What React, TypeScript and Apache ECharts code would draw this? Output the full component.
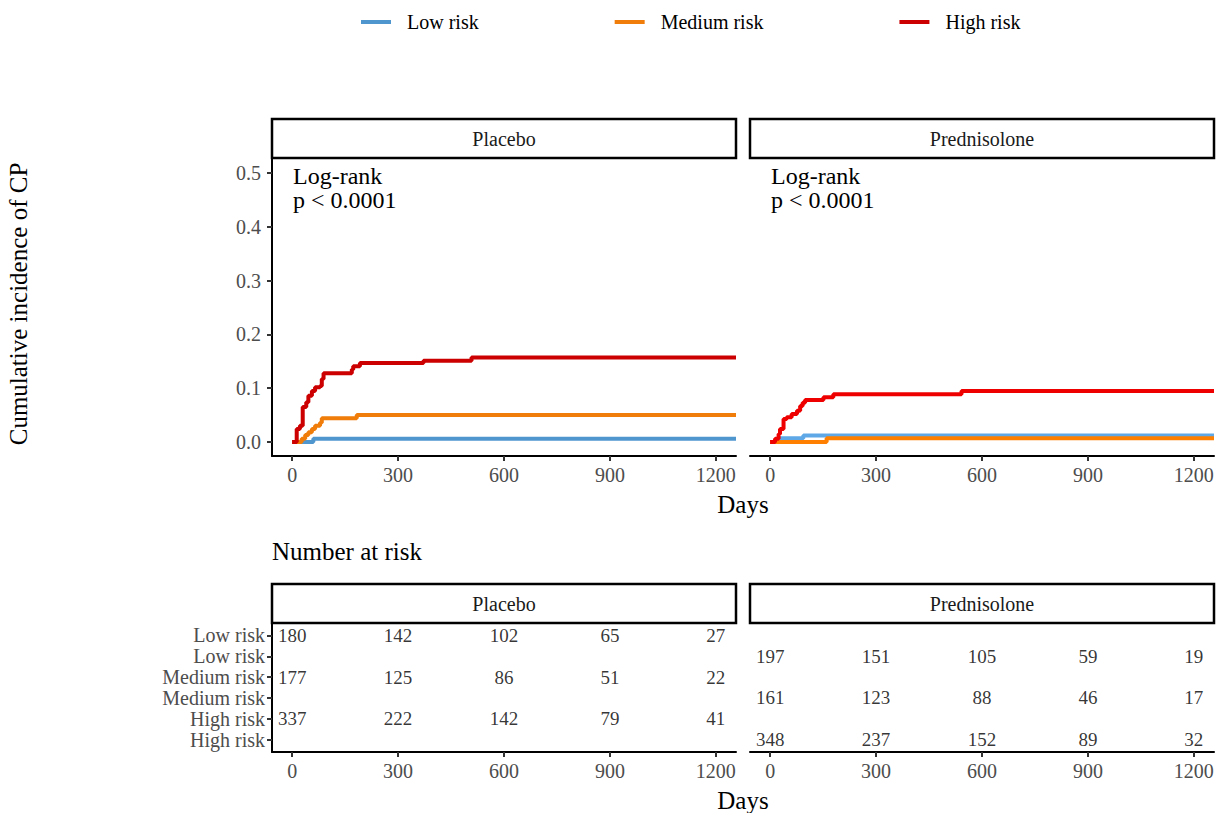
import React, { useEffect, useRef } from "react";
import * as echarts from "echarts";

const FONT = "Liberation Serif";

const riskGroups = ["Low risk", "Medium risk", "High risk"];
const panels = ["Placebo", "Prednisolone"];
const dayTicks = [0, 300, 600, 900, 1200];
const incidenceTicks = [0, 0.1, 0.2, 0.3, 0.4, 0.5];
const riskRowLabels = ["Low risk", "Low risk", "Medium risk", "Medium risk", "High risk", "High risk"];
const pValueText = ["Log-rank", "p < 0.0001"];

// Placebo cumulative incidence (step curves)
const placeboLowT = [0, 60, 1257];
const placeboLowY = [0, 0.006, 0.006];
const placeboMedT = [0, 23, 27, 37, 46, 56, 65, 79, 84, 183, 1257];
const placeboMedY = [0, 0, 0.006, 0.013, 0.018, 0.024, 0.03, 0.036, 0.044, 0.05, 0.05];
const placeboHighT = [0, 13, 22, 30, 40, 46, 56, 65, 79, 84, 89, 169, 173, 192, 372, 508, 1257];
const placeboHighY = [0, 0.024, 0.03, 0.065, 0.074, 0.086, 0.095, 0.102, 0.104, 0.117, 0.128, 0.135, 0.141, 0.147, 0.151, 0.157, 0.157];

// Prednisolone cumulative incidence
const predLowT = [0, 28, 94, 1257];
const predLowY = [0, 0.007, 0.012, 0.012];
const predMedT = [0, 160, 1257];
const predMedY = [0, 0.007, 0.007];
const predHighT = [0, 14, 24, 28, 38, 47, 61, 76, 85, 92, 99, 151, 179, 542, 1257];
const predHighY = [0, 0.006, 0.015, 0.024, 0.043, 0.046, 0.052, 0.058, 0.067, 0.073, 0.078, 0.083, 0.089, 0.095, 0.095];

// Number at risk
const riskTimes = [0, 300, 600, 900, 1200];
const placeboAtRiskLow = [180, 142, 102, 65, 27];
const placeboAtRiskMed = [177, 125, 86, 51, 22];
const placeboAtRiskHigh = [337, 222, 142, 79, 41];
const predAtRiskLow = [197, 151, 105, 59, 19];
const predAtRiskMed = [161, 123, 88, 46, 17];
const predAtRiskHigh = [348, 237, 152, 89, 32];

const leftColors = ["#4F96CF", "#F07C0A", "#CC0000"];
const rightColors = ["#5EA8E8", "#FF8000", "#EE0000"];

const zip = (t: number[], y: number[]) => t.map((v, i) => [v, y[i]]);

export default function App() {
  const ref = useRef<HTMLDivElement>(null);
  useEffect(() => {
    if (!ref.current) return;
    const chart = echarts.init(ref.current, null, { renderer: "svg" });

    const curves = [
      [zip(placeboLowT, placeboLowY), zip(placeboMedT, placeboMedY), zip(placeboHighT, placeboHighY)],
      [zip(predLowT, predLowY), zip(predMedT, predMedY), zip(predHighT, predHighY)],
    ];
    const atRisk = [
      [placeboAtRiskLow, placeboAtRiskMed, placeboAtRiskHigh],
      [predAtRiskLow, predAtRiskMed, predAtRiskHigh],
    ];

    const grids = [
      { left: 272, top: 159, width: 464, height: 297 },
      { left: 750, top: 159, width: 464, height: 297 },
      { left: 272, top: 623, width: 464, height: 129 },
      { left: 750, top: 623, width: 464, height: 129 },
    ];

    const xAxisBase = (gi: number) => ({
      type: "value",
      gridIndex: gi,
      min: -57,
      max: 1257,
      splitLine: { show: false },
      axisLine: { show: true, onZero: false, lineStyle: { color: "#000", width: 2 } },
      axisTick: { show: true, length: 5, customValues: dayTicks, lineStyle: { color: "#333", width: 2 } },
      axisLabel: {
        show: true,
        customValues: dayTicks,
        formatter: (v: number) => String(v),
        margin: 9,
        color: "#4D4D4D",
        fontSize: 20,
        fontFamily: FONT,
      },
    });

    const series: any[] = [];
    for (let p = 0; p < 2; p++) {
      for (let g = 0; g < 3; g++) {
        series.push({
          type: "line",
          name: riskGroups[g],
          xAxisIndex: p,
          yAxisIndex: p,
          step: "end",
          showSymbol: false,
          symbol: "none",
          data: curves[p][g],
          color: p === 0 ? leftColors[g] : rightColors[g],
          lineStyle: { width: 4, color: p === 0 ? leftColors[g] : rightColors[g] },
          z: 2 + g,
        });
      }
      const pts: any[] = [];
      for (let g = 0; g < 3; g++) {
        riskTimes.forEach((t, i) => pts.push([t, g * 2 + p + 1, atRisk[p][g][i]]));
      }
      series.push({
        type: "scatter",
        name: "atrisk" + p,
        xAxisIndex: 2 + p,
        yAxisIndex: 2 + p,
        symbolSize: 1,
        itemStyle: { color: "rgba(0,0,0,0)" },
        data: pts,
        label: {
          show: true,
          position: "inside",
          formatter: (d: any) => String(d.value[2]),
          color: "#000",
          fontSize: 19,
          fontFamily: FONT,
        },
      });
    }

    const strip = (x: number, y: number, label: string) => [
      {
        type: "rect",
        shape: { x, y, width: 464, height: 39 },
        style: { fill: "#fff", stroke: "#000", lineWidth: 2.5 },
        z: 10,
      },
      {
        type: "text",
        x: x + 232,
        y: y + 20,
        style: { text: label, fill: "#1A1A1A", fontSize: 20, fontFamily: FONT, textAlign: "center", textVerticalAlign: "middle" },
        z: 11,
      },
    ];

    const graphic: any[] = [
      ...strip(272, 119, panels[0]),
      ...strip(750, 119, panels[1]),
      ...strip(272, 584, panels[0]),
      ...strip(750, 584, panels[1]),
      {
        type: "text",
        x: 18,
        y: 304,
        rotation: Math.PI / 2,
        style: { text: "Cumulative incidence of CP", fill: "#000", fontSize: 25, fontFamily: FONT, textAlign: "center", textVerticalAlign: "middle" },
      },
      {
        type: "text",
        x: 743,
        y: 504,
        style: { text: "Days", fill: "#000", fontSize: 25, fontFamily: FONT, textAlign: "center", textVerticalAlign: "middle" },
      },
      {
        type: "text",
        x: 743,
        y: 800,
        style: { text: "Days", fill: "#000", fontSize: 25, fontFamily: FONT, textAlign: "center", textVerticalAlign: "middle" },
      },
      {
        type: "text",
        x: 272,
        y: 551,
        style: { text: "Number at risk", fill: "#000", fontSize: 25, fontFamily: FONT, textAlign: "left", textVerticalAlign: "middle" },
      },
    ];
    [293, 771].forEach((x) => {
      pValueText.forEach((t, i) => {
        graphic.push({
          type: "text",
          x,
          y: 176 + i * 24,
          style: { text: t, fill: "#000", fontSize: 24, fontFamily: FONT, textAlign: "left", textVerticalAlign: "middle" },
          z: 12,
        });
      });
    });

    chart.setOption({
      animation: false,
      backgroundColor: "#fff",
      textStyle: { fontFamily: FONT },
      legend: {
        top: 7,
        left: 356,
        itemWidth: 30,
        itemHeight: 4,
        itemGap: 136,
        icon: "rect",
        data: riskGroups.map((n, i) => ({ name: n, itemStyle: { color: leftColors[i] } })),
        textStyle: { fontFamily: FONT, fontSize: 20, color: "#000", padding: [0, 0, 0, 11] },
        selectedMode: false,
      },
      grid: grids,
      xAxis: [xAxisBase(0), xAxisBase(1), xAxisBase(2), xAxisBase(3)],
      yAxis: [
        {
          type: "value",
          gridIndex: 0,
          min: -0.026,
          max: 0.526,
          splitLine: { show: false },
          axisLine: { show: true, onZero: false, lineStyle: { color: "#000", width: 2 } },
          axisTick: { show: true, length: 5, customValues: incidenceTicks, lineStyle: { color: "#333", width: 2 } },
          axisLabel: {
            customValues: incidenceTicks,
            formatter: (v: number) => v.toFixed(1),
            margin: 11,
            color: "#4D4D4D",
            fontSize: 20,
            fontFamily: FONT,
          },
        },
        { type: "value", gridIndex: 1, min: -0.026, max: 0.526, show: false },
        {
          type: "value",
          gridIndex: 2,
          min: 0.4,
          max: 6.6,
          inverse: true,
          splitLine: { show: false },
          axisLine: { show: true, onZero: false, lineStyle: { color: "#000", width: 2 } },
          axisTick: { show: true, length: 5, customValues: [1, 2, 3, 4, 5, 6], lineStyle: { color: "#333", width: 2 } },
          axisLabel: {
            customValues: [1, 2, 3, 4, 5, 6],
            formatter: (v: number) => riskRowLabels[Math.round(v) - 1],
            margin: 7,
            color: "#4D4D4D",
            fontSize: 20,
            fontFamily: FONT,
          },
        },
        { type: "value", gridIndex: 3, min: 0.4, max: 6.6, inverse: true, show: false },
      ],
      series,
      graphic,
    });
    return () => chart.dispose();
  }, []);
  return <div ref={ref} style={{ position: "fixed", left: 0, top: 0, width: 1225, height: 813 }} />;
}
